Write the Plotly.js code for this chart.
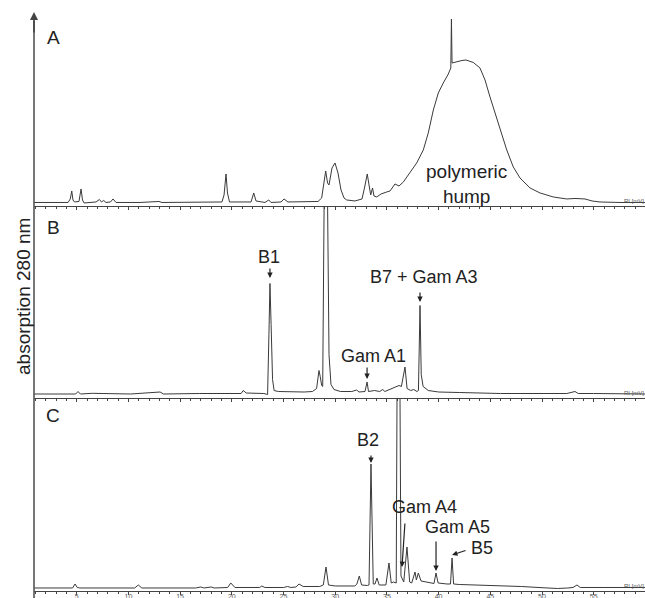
<!DOCTYPE html>
<html>
<head>
<meta charset="utf-8">
<script src="https://cdn.plot.ly/plotly-3.0.1.min.js"></script>
<style>html,body{margin:0;padding:0;background:#fff;}#chart{width:645px;height:598px;}</style>
</head>
<body>
<div id="chart"></div>
<script>
// ---- Data (time in minutes, signal in arbitrary units) ----
const timeA = [0.87,3.38,4.16,4.38,4.52,4.64,4.79,5.22,5.42,5.56,5.71,6.87,7.19,7.40,7.61,7.83,8.27,8.51,8.80,11.12,12.96,13.25,16.92,19.05,19.25,19.44,19.58,19.78,21.86,22.12,22.34,23.21,23.57,23.79,24.76,25.05,25.43,26.60,28.34,28.69,29.08,29.26,29.40,29.69,29.98,30.27,30.56,30.85,31.11,31.91,32.59,32.83,33.10,33.27,33.43,33.61,33.75,34.01,34.43,34.98,35.30,35.78,36.17,36.59,37.23,37.88,38.52,39.00,39.49,39.97,40.45,40.94,41.18,41.24,41.30,41.75,42.26,42.65,43.36,44.00,44.49,44.97,45.45,45.94,46.59,47.22,47.87,48.84,49.81,51.09,52.39,53.19,54.16,54.84,55.61,57.54,59.96];
const signalA = [0.5,0.5,0.5,4,12,3,1,1.5,14,3,0,1,3.5,1,2.5,0.5,1,4,0.5,0.5,1.5,0.5,0.5,1,8,29,10,1,1,10,2,0.5,3,0.5,1,4,1,1,1.5,5,32,20,18,35,40,30,13,5,3,2,4,15,29,18,8,15,7,6,9,11,12,19,17,21,30,40,53,70,93,110,120,129,135,184,140,141.5,142.5,143,140.5,135,123,106,90,73,53,36,25,15,10,6,4,4.5,4,2,1,0.5,0.5];

const timeB = [0.87,4.9,5.13,5.35,6.5,8.0,8.3,9.8,10.2,13.06,13.4,16.9,20.9,21.1,21.4,23.1,23.46,23.59,23.69,23.80,23.94,24.09,24.5,27.0,27.8,28.2,28.43,28.55,28.69,28.79,28.97,29.21,29.40,29.59,29.88,30.5,31.6,32.08,32.3,32.88,33.08,33.22,33.8,34.3,34.6,34.8,35.3,35.6,36.17,36.4,36.75,36.95,37.3,37.6,37.9,38.05,38.2,38.32,38.5,39.0,40.0,42.0,44.5,46.0,50.0,52.4,53.19,53.5,55.0,57.0,59.96];
const signalB = [0.5,0.5,3,0.5,1.2,1.2,0.5,1,0.5,2.5,0.5,1,1,4,1.5,1,0,60,111,70,15,4,3,2.5,3,6,24,18,9,8,250,250,40,10,5,3,3,4.5,2.5,3,12.5,3,4,3,5,3,5,6,9,8,27.5,6,4,5,3,4,89,20,8,4,2.5,2,1.5,1,1,1,3,1,1,0.5,0.5];

const timeC = [0.87,4.6,4.84,5.05,5.3,10.6,10.96,11.3,16.5,17.0,17.3,18.0,18.3,19.6,19.9,20.3,22.7,22.9,23.2,25.0,25.4,25.7,26.2,26.5,26.9,28.5,28.85,29.11,29.35,30.0,31.9,32.1,32.33,32.55,33.1,33.27,33.46,33.68,33.85,34.04,34.25,34.9,35.2,35.42,35.62,35.8,35.9,36.02,36.21,36.36,36.46,36.63,36.94,37.2,37.4,37.72,37.85,38.04,38.3,38.7,39.2,39.55,39.75,39.95,40.8,41.15,41.3,41.45,42.0,44.0,46.0,48.0,50.0,51.5,52.5,53.0,53.38,53.7,56.0,59.96];
const signalC = [0,0,4,0.5,0,0,3,0,0,1,0,1,0,0.5,5,0.5,0.5,2,0.5,0.5,1.5,0.5,1,4,1.5,1.5,3,21,3,2,2,4,12,3,2.5,3,124,4,4,10,3,3,25,5,6,5,5,300,300,12,10,6,41,6,5,16,8,15,7,6,5,4.5,15,5,4,4,30,4,3.5,3,2.5,1.5,0.3,-0.5,0,0.5,3,0.5,0.5,0.5];

const tickValues = [5,10,15,20,25,30,35,40,45,50,55,60];
const tickLabels = ["5","10","15","20","25","30","35","40","45","50","55","60"];

const panelLetters = ["A","B","C"];
// peak labels: text, panel, label time, label height
const labelTexts  = ["B1","Gam A1","B7 + Gam A3","B2","Gam A4","Gam A5","B5","polymeric<br>hump"];
const labelPanel  = ["y2","y2","y2","y3","y3","y3","y3","y"];
const labelTime   = [23.6,33.75,38.59,33.2,38.68,41.78,44.2,42.65];
const labelHeight = [137.5,38.5,117.5,148,81,61,40,19];
const labelSize   = [18,18,18,18,18,18,18,19];
// arrows: panel, tip time, tip height, tail dx px, tail dy px
const arrowPanel  = ["y2","y2","y2","y3","y3","y3","y3"];
const arrowTime   = [23.69,33.08,38.2,33.46,36.46,39.75,41.3];
const arrowHeight = [116.5,15.5,92.5,125,21,17,33];
const arrowDx     = [0,0,0,0,3,0,15];
const arrowDy     = [-11,-13,-11,-9,-45,-31,-5];

// ---- Figure ----
const lineColor = '#3a3a3a';
const fontFam = 'Liberation Sans, Arial, Helvetica, sans-serif';
const traces = [
  {x: timeA, y: signalA, xaxis: 'x',  yaxis: 'y',  type: 'scatter', mode: 'lines', line: {color: lineColor, width: 1}, hoverinfo: 'skip'},
  {x: timeB, y: signalB, xaxis: 'x2', yaxis: 'y2', type: 'scatter', mode: 'lines', line: {color: lineColor, width: 1}, hoverinfo: 'skip'},
  {x: timeC, y: signalC, xaxis: 'x3', yaxis: 'y3', type: 'scatter', mode: 'lines', line: {color: lineColor, width: 1}, hoverinfo: 'skip'}
];

function xAxis(anchor, labels) {
  const ax = {
    anchor: anchor, domain: [0, 1], range: [0.87, 59.96],
    showline: true, linecolor: '#444', linewidth: 1,
    showgrid: false, zeroline: false,
    ticks: 'outside', ticklen: 3, tickcolor: '#444', tickwidth: 1,
    tickmode: 'array', tickvals: tickValues, ticktext: tickLabels,
    showticklabels: labels, ticklabelstandoff: -4,
    tickfont: {family: fontFam, size: 7, color: '#555'},
    minor: {dtick: 1, tick0: 0, ticks: 'outside', ticklen: 2, tickcolor: '#444', showgrid: false}
  };
  if (anchor !== 'y') ax.matches = 'x';
  return ax;
}
function yAxis(domain, range) {
  return {domain: domain, range: range, visible: false, showgrid: false, zeroline: false, fixedrange: true};
}

const annotations = [];
const letterAxes = ['y','y2','y3'];
const letterHeights = [166, 166.5, 173];
panelLetters.forEach((t, i) => annotations.push({
  text: t, xref: i === 0 ? 'x' : 'x' + (i + 1), yref: letterAxes[i], x: 2.71, y: letterHeights[i],
  showarrow: false, xanchor: 'center', yanchor: 'middle',
  font: {family: fontFam, size: 19, color: '#222'}
}));
labelTexts.forEach((t, i) => annotations.push({
  text: t, xref: labelPanel[i] === 'y' ? 'x' : 'x' + labelPanel[i].slice(1), yref: labelPanel[i],
  x: labelTime[i], y: labelHeight[i], showarrow: false, xanchor: 'center', yanchor: 'middle', align: 'center',
  font: {family: fontFam, size: labelSize[i], color: '#222'}
}));
arrowPanel.forEach((p, i) => annotations.push({
  text: '', xref: 'x' + p.slice(1), yref: p, x: arrowTime[i], y: arrowHeight[i],
  showarrow: true, ax: arrowDx[i], ay: arrowDy[i], arrowhead: 2, arrowsize: 0.9, arrowwidth: 1.2, arrowcolor: '#222'
}));
// y-axis arrow head and title
annotations.push({text: '', xref: 'paper', yref: 'paper', x: 0, y: 1, showarrow: true, ax: 0, ay: 22,
  arrowhead: 2, arrowsize: 1, arrowwidth: 1.6, arrowcolor: '#444'});
annotations.push({text: 'absorption 280 nm', xref: 'paper', yref: 'paper', x: -0.0164, y: 0.5095,
  textangle: -90, showarrow: false, xanchor: 'center', yanchor: 'middle',
  font: {family: fontFam, size: 19, color: '#222'}});
// tiny detector labels at right end of each baseline
['y','y2','y3'].forEach((p, i) => annotations.push({
  text: 'RI [mV]', xref: i === 0 ? 'x' : 'x' + (i + 1), yref: p, x: 57.74, y: 1.5,
  showarrow: false, xanchor: 'left', yanchor: 'middle', font: {family: fontFam, size: 6, color: '#555'}
}));

const layout = {
  width: 645, height: 598,
  margin: {l: 34, r: 0, t: 12, b: 7, pad: 0},
  paper_bgcolor: '#fff', plot_bgcolor: '#fff',
  showlegend: false,
  xaxis: xAxis('y', false),
  xaxis2: xAxis('y2', false),
  xaxis3: xAxis('y3', true),
  yaxis: yAxis([0.665, 1], [-3, 191]),
  yaxis2: yAxis([0.3333, 0.665], [-3.5, 188.5]),
  yaxis3: yAxis([0, 0.3333], [-3, 190]),
  shapes: [{type: 'line', xref: 'paper', yref: 'paper', x0: 0, x1: 0, y0: -0.03, y1: 0.985,
    line: {color: '#555', width: 1.6}}],
  annotations: annotations
};

Plotly.newPlot('chart', traces, layout, {staticPlot: true, displayModeBar: false});
</script>
</body>
</html>
